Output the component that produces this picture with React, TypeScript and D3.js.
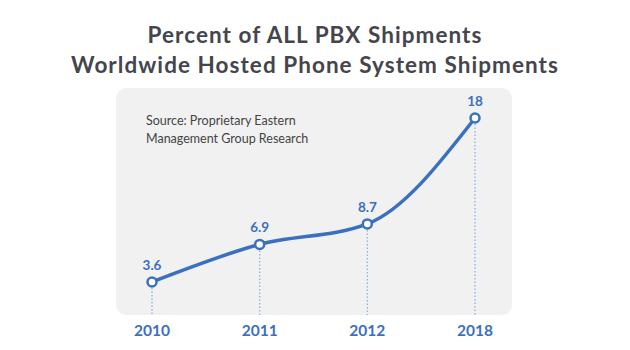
import React from "react";
import * as d3 from "d3";

const years = ["2010", "2011", "2012", "2018"];
const values = [3.6, 6.9, 8.7, 18];
const valueLabels = ["3.6", "6.9", "8.7", "18"];
const titleLines = ["Percent of ALL PBX Shipments", "Worldwide Hosted Phone System Shipments"];
const sourceLines = ["Source: Proprietary Eastern", "Management Group Research"];

const BLUE = "#3a70bf";

export default function App() {
  const W = 630, H = 350;
  const x = d3.scalePoint<string>().domain(years).range([152, 475]);
  const y = d3.scaleLinear().domain([0, 18]).range([323, 118]);
  const pts = years.map((yr, i) => [x(yr) as number, y(values[i])] as [number, number]);
  const line = d3.line().curve(d3.curveMonotoneX)(pts) || "";
  const panel = { x: 116, y: 88, w: 396, h: 227 };
  return (
    <svg width={W} height={H} style={{ position: "absolute", left: 0, top: 0, background: "#fff" }}>
      <rect x={0} y={0} width={W} height={H} fill="#fff" />
      {titleLines.map((t, i) => (
        <text key={t} x={315} y={43 + i * 30} textAnchor="middle" fontFamily="Lato" fontWeight={700}
          fontSize={22.5} letterSpacing={1.05} fill="#45454d">{t}</text>
      ))}
      <rect x={panel.x} y={panel.y} width={panel.w} height={panel.h} rx={10} fill="#f1f1f1" />
      {sourceLines.map((t, i) => (
        <text key={t} x={146} y={125 + i * 18} fontFamily="Lato" fontSize={12.5} fill="#444">{t}</text>
      ))}
      {pts.map(([px, py], i) => (
        <line key={"d" + i} x1={px} x2={px} y1={py + 6} y2={panel.y + panel.h} stroke="#8fb0df"
          strokeWidth={1.3} strokeDasharray="1.5,2" />
      ))}
      <path d={line} fill="none" stroke={BLUE} strokeWidth={3.5} strokeLinecap="round" />
      {pts.map(([px, py], i) => (
        <g key={"p" + i}>
          <circle cx={px} cy={py} r={4.5} fill="#fff" stroke={BLUE} strokeWidth={2.5} />
          <text x={px} y={py - 12} textAnchor="middle" fontFamily="Lato" fontWeight={700} fontSize={13.5}
            fill={BLUE}>{valueLabels[i]}</text>
        </g>
      ))}
      {years.map((yr) => (
        <text key={yr} x={x(yr) as number} y={336} textAnchor="middle" fontFamily="Lato" fontWeight={700}
          fontSize={15.5} fill={BLUE}>{yr}</text>
      ))}
    </svg>
  );
}
